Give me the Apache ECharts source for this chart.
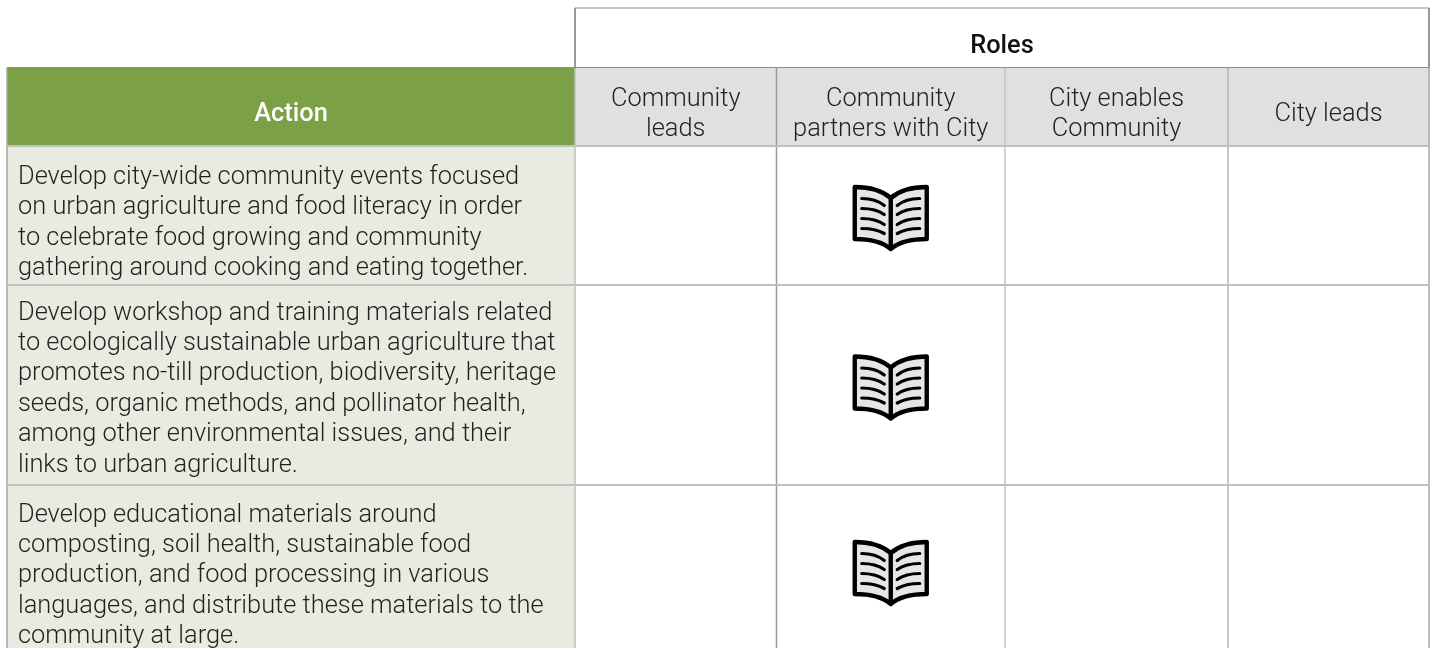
<!DOCTYPE html>
<html>
<head>
<meta charset="utf-8">
<style>html,body{margin:0;padding:0;background:#fff}#main{width:1434px;height:648px}</style>
<script src="https://cdn.jsdelivr.net/npm/echarts@6/dist/echarts.min.js"></script>
</head>
<body>
<div id="main"></div>
<script>
// table content
const roleGroup = 'Roles';
const actionHeader = 'Action';
const roleHeaders = ['Community\nleads', 'Community\npartners with City', 'City enables\nCommunity', 'City leads'];
const actions = [
  'Develop city-wide community events focused\non urban agriculture and food literacy in order\nto celebrate food growing and community\ngathering around cooking and eating together.',
  'Develop workshop and training materials related\nto ecologically sustainable urban agriculture that\npromotes no-till production, biodiversity, heritage\nseeds, organic methods, and pollinator health,\namong other environmental issues, and their\nlinks to urban agriculture.',
  'Develop educational materials around\ncomposting, soil health, sustainable food\nproduction, and food processing in various\nlanguages, and distribute these materials to the\ncommunity at large.'
];
// which role column holds the book icon, per action
const bookRole = [1, 1, 1];

// layout in chart units (1 unit = 1px)
const colEdges = [7, 575, 776.5, 1005, 1228, 1429];
const rowEdges = [8, 67.5, 146, 285, 485, 656];
const textTops = [162.5, 298, 500];
const colLines = ['#a6a7a9', '#bdbec0', '#9a9b9d', '#c4c5c7', '#b4b5b7', '#a6a7a9'];
const rowLine = '#bfc0c2';
const font = 'Roboto, sans-serif';
const lh = 30.4;

function rectCell(api, x0, y0, x1, y1, fill) {
  const a = api.coord([x0, y0]), b = api.coord([x1, y1]);
  return {type: 'rect', shape: {x: a[0], y: a[1], width: b[0] - a[0], height: b[1] - a[1]}, style: {fill: fill}};
}
function rule(api, x0, y0, x1, y1, color, w) {
  const a = api.coord([x0, y0]), b = api.coord([x1, y1]);
  return {type: 'line', shape: {x1: a[0], y1: a[1], x2: b[0], y2: b[1]}, style: {stroke: color, lineWidth: w}};
}
function textCell(api, x, y, text, opt) {
  const p = api.coord([x, y]);
  return {type: 'text', x: p[0], y: p[1], z2: 5, style: Object.assign({
    text: text, fontFamily: font, fontSize: 25.4, fontWeight: 300, fill: '#231f20',
    align: 'center', verticalAlign: 'middle', lineHeight: lh}, opt)};
}
// open book, drawn around the centre of its cell
function bookIcon(api, cx, cy) {
  const p = api.coord([cx, cy]);
  const pages = 'M-36,-31 C-18,-31 -7,-26 0,-20 C7,-26 18,-31 36,-31 L36,21 C18,21 7,25 0,31 C-7,25 -18,21 -36,21 Z';
  const starts = [-19.5, -9.5, 0.5, 10.5];
  const ends = [-12.5, -3.5, 6.5, 15.5];
  const lines = [];
  starts.forEach(function (y, i) {
    const e = ends[i];
    lines.push('M-29,' + y + ' Q-15,' + y + ' -6.5,' + e);
    lines.push('M29,' + y + ' Q15,' + y + ' 6.5,' + e);
  });
  return {type: 'group', x: p[0], y: p[1], z2: 6, children: [
    {type: 'path', shape: {pathData: pages}, style: {fill: '#e6e6e6', stroke: '#000', lineWidth: 4.4, lineJoin: 'round'}},
    {type: 'line', shape: {x1: 0, y1: -20, x2: 0, y2: 31}, style: {stroke: '#000', lineWidth: 4.4}},
    {type: 'path', shape: {pathData: lines.join(' ')}, style: {fill: 'none', stroke: '#000', lineWidth: 3.2, lineCap: 'round'}}
  ]};
}

const cells = [];
cells.push({kind: 'roleGroup'});
cells.push({kind: 'actionHead'});
roleHeaders.forEach(function (t, i) { cells.push({kind: 'roleHead', col: i + 1, text: t}); });
actions.forEach(function (t, r) {
  cells.push({kind: 'action', row: r, text: t});
  roleHeaders.forEach(function (h, i) {
    cells.push({kind: 'cell', row: r, col: i + 1, book: bookRole[r] === i});
  });
});
cells.push({kind: 'rules'});

function renderCell(params, api) {
  const d = cells[params.dataIndex];
  const L = colEdges, R = rowEdges, last = L.length - 1;
  if (d.kind === 'roleGroup') {
    return textCell(api, (L[1] + L[last]) / 2, 47, roleGroup, {fontWeight: 500, fontSize: 25.4, fill: '#111'});
  }
  if (d.kind === 'actionHead') {
    return {type: 'group', children: [
      rectCell(api, L[0], R[1], L[1], R[2], '#7ba046'),
      textCell(api, (L[0] + L[1]) / 2, (R[1] + R[2]) / 2 + 8, actionHeader, {fontWeight: 500, fontSize: 25.4, fill: '#fff'})
    ]};
  }
  if (d.kind === 'roleHead') {
    return {type: 'group', children: [
      rectCell(api, L[d.col], R[1], L[d.col + 1], R[2], '#dfe0e2'),
      textCell(api, (L[d.col] + L[d.col + 1]) / 2, (R[1] + R[2]) / 2 + 8, d.text, {})
    ]};
  }
  if (d.kind === 'action') {
    const y0 = R[d.row + 2], y1 = R[d.row + 3];
    const h = actions[d.row].split('\n').length * lh;
    return {type: 'group', children: [
      rectCell(api, L[0], y0, L[1], y1 + 40, '#eaebe0'),
      textCell(api, L[0] + 11, textTops[d.row] + h / 2, d.text, {align: 'left'})
    ]};
  }
  if (d.kind === 'cell') {
    if (!d.book) return null;
    return bookIcon(api, (L[d.col] + L[d.col + 1]) / 2, (R[d.row + 2] + R[d.row + 3]) / 2 + 2.5);
  }
  // grid rules go on top of the fills
  const kids = [];
  L.forEach(function (x, i) {
    kids.push(rule(api, x, R[1], x, 648, colLines[i], 1.5));
  });
  kids.push(rule(api, L[0], R[1], L[1], R[1], '#8f9092', 1.2));
  kids.push(rule(api, L[1], R[1], L[last], R[1], '#8f9092', 1.2));
  [R[2], R[3], R[4]].forEach(function (y) {
    kids.push(rule(api, L[0], y, L[last], y, rowLine, 1.8));
  });
  // box around Roles
  kids.push(rule(api, L[1], R[0], L[last], R[0], '#8a8b8d', 1.2));
  kids.push(rule(api, L[1], R[0], L[1], R[1], '#55565a', 1.2));
  kids.push(rule(api, L[last], R[0], L[last], R[1], '#55565a', 1.2));
  return {type: 'group', children: kids};
}

const chart = echarts.init(document.getElementById('main'));
chart.setOption({
  animation: false,
  grid: {left: 0, right: 0, top: 0, bottom: 0},
  xAxis: {type: 'value', min: 0, max: 1434, show: false},
  yAxis: {type: 'value', min: 0, max: 648, inverse: true, show: false},
  series: [{
    type: 'custom',
    coordinateSystem: 'cartesian2d',
    clip: true,
    silent: true,
    renderItem: renderCell,
    data: cells.map(function (c, i) { return [i, 0]; }),
    encode: {x: 0, y: 1}
  }]
});
</script>
</body>
</html>
